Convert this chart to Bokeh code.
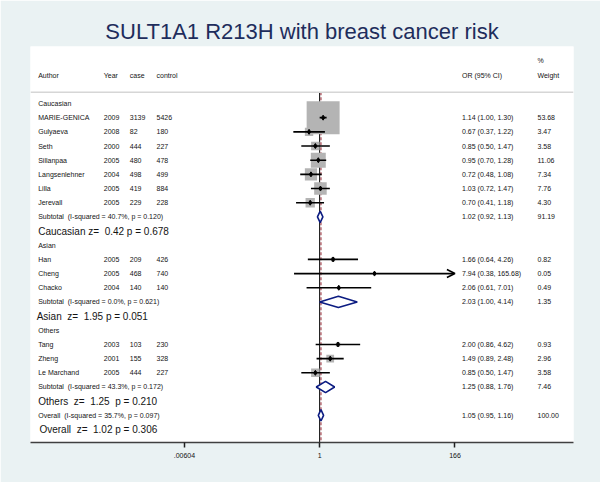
import numpy as np
from bokeh.plotting import figure
from bokeh.models import (Range1d, LinearScale, FixedTicker, ColumnDataSource,
                          Arrow, OpenHead, Span)
from bokeh.core.properties import value
from bokeh.embed import file_html
from bokeh.resources import INLINE

# ---------------- data ----------------
title = "SULT1A1 R213H with breast cancer risk"

authors = ["MARIE-GENICA", "Gulyaeva", "Seth", "Sillanpaa", "Langsenlehner", "Lilla",
           "Jerevall", "Han", "Cheng", "Chacko", "Tang", "Zheng", "Le Marchand"]
years = [2009, 2008, 2000, 2005, 2004, 2005, 2005, 2005, 2005, 2004, 2003, 2001, 2005]
cases = [3139, 82, 444, 480, 498, 419, 229, 209, 468, 140, 103, 155, 444]
controls = [5426, 180, 227, 478, 499, 884, 228, 426, 740, 140, 230, 328, 227]
odds = [1.14, 0.67, 0.85, 0.95, 0.72, 1.03, 0.70, 1.66, 7.94, 2.06, 2.00, 1.49, 0.85]
ci_lo = [1.00, 0.37, 0.50, 0.70, 0.48, 0.72, 0.41, 0.64, 0.38, 0.61, 0.86, 0.89, 0.50]
ci_hi = [1.30, 1.22, 1.47, 1.28, 1.08, 1.47, 1.18, 4.26, 165.68, 7.01, 4.62, 2.48, 1.47]
weights = [53.68, 3.47, 3.58, 11.06, 7.34, 7.76, 4.30, 0.82, 0.05, 0.49, 0.93, 2.96, 3.58]
study_rows = [2, 3, 4, 5, 6, 7, 8, 12, 13, 14, 18, 19, 20]

groups = ["Caucasian", "Asian", "Others"]
group_rows = [1, 11, 17]

pooled_labels = ["Subtotal  (I-squared = 40.7%, p = 0.120)",
                 "Subtotal  (I-squared = 0.0%, p = 0.621)",
                 "Subtotal  (I-squared = 43.3%, p = 0.172)",
                 "Overall  (I-squared = 35.7%, p = 0.097)"]
pooled_or = [1.02, 2.03, 1.25, 1.05]
pooled_lo = [0.92, 1.00, 0.88, 0.95]
pooled_hi = [1.13, 4.14, 1.76, 1.16]
pooled_w = [91.19, 1.35, 7.46, 100.00]
pooled_rows = [9, 15, 21, 23]

z_labels = ["Caucasian z=  0.42 p = 0.678",
            "Asian  z=  1.95 p = 0.051",
            "Others  z=  1.25  p = 0.210",
            "Overall  z=  1.02 p = 0.306"]
z_rows = [10, 16, 22, 24]

tick_vals = [0.00604, 1, 166]
tick_labels = [".00604", "1", "166"]

null_value = 1
overall_or = pooled_or[-1]

# ---------------- style / layout ----------------
BG = "#eaf2f3"
FONT = "Liberation Sans"
NAVY = "#0c1c82"
TXT = "#141414"


def nb(s):
    return s.replace("  ", " \u00a0")


p = figure(width=600, height=482,
           x_axis_type="log", output_backend="svg", toolbar_location=None,
           x_range=Range1d(np.exp(-10.924), np.exp(9.590)),
           y_range=Range1d(24.917, -3.021),
           min_border_left=30, min_border_right=27, min_border_bottom=40,
           min_border_top=46, y_axis_location=None)
p.extra_x_ranges = {"txt": Range1d(0, 543)}
p.extra_x_scales = {"txt": LinearScale()}

p.title.text = title
p.title.align = "center"
p.title.text_font = FONT
p.title.text_font_size = "22px"
p.title.text_font_style = "normal"
p.title.text_color = "#1e2d5c"
p.title.standoff = 5

p.background_fill_color = "white"
p.border_fill_color = BG
p.outline_line_color = None
p.xgrid.visible = False
p.ygrid.visible = False

ax = p.xaxis[0]
ax.ticker = FixedTicker(ticks=tick_vals)
ax.major_label_overrides = {v: l for v, l in zip(tick_vals, tick_labels)}
ax.axis_line_color = "#404040"
ax.axis_line_width = 1.5
ax.major_tick_line_color = "#202020"
ax.major_tick_line_width = 1.5
ax.major_tick_in = 0
ax.major_tick_out = 5
ax.minor_tick_line_color = None
ax.major_label_text_font = FONT
ax.major_label_text_font_size = "7px"
ax.major_label_text_color = TXT
ax.major_label_standoff = 5

sep_row = 0.2
bottom_row = 24.917

# header separator
p.add_layout(Span(location=sep_row, dimension="width", line_color="#d6d6d6", line_width=1.5))

# null line and overall line
p.segment(x0=[null_value], y0=[sep_row], x1=[null_value], y1=[bottom_row],
          line_color="black", line_width=1)
p.segment(x0=[overall_or], y0=[sep_row], x1=[overall_or], y1=[bottom_row],
          line_color="#a8505a", line_width=1.3, line_dash="3 2")

# study boxes, CIs, points
box = [4.5 * np.sqrt(w) for w in weights]
src = ColumnDataSource(dict(or_=odds, lo=ci_lo, hi=ci_hi, row=study_rows, box=box))
p.rect(x="or_", y="row", width="box", height="box", width_units="screen",
       height_units="screen", source=src, fill_color="#b4b4b4", line_color=None)

arrow_mask = [h > 100 for h in ci_hi]
seg_src = ColumnDataSource(dict(
    lo=[l for l, m in zip(ci_lo, arrow_mask) if not m],
    hi=[h for h, m in zip(ci_hi, arrow_mask) if not m],
    row=[r for r, m in zip(study_rows, arrow_mask) if not m]))
p.segment(x0="lo", y0="row", x1="hi", y1="row", source=seg_src,
          line_color="black", line_width=1.6)
arr_src = ColumnDataSource(dict(
    lo=[l for l, m in zip(ci_lo, arrow_mask) if m],
    hi=[h for h, m in zip(ci_hi, arrow_mask) if m],
    row=[r for r, m in zip(study_rows, arrow_mask) if m]))
p.add_layout(Arrow(x_start="lo", y_start="row", x_end="hi", y_end="row", source=arr_src,
                   line_color="black", line_width=1.6,
                   end=OpenHead(size=8, line_color="black", line_width=1.6)))

p.scatter(x="or_", y="row", source=src, marker="diamond", size=5,
          fill_color="black", line_color="black")

# pooled diamonds
h = 0.4
xs, ys = [], []
for o, l, hi_, r in zip(pooled_or, pooled_lo, pooled_hi, pooled_rows):
    xs.append([l, o, hi_, o])
    ys.append([r, r - h, r, r + h])
p.patches(xs, ys, fill_color="white", line_color=NAVY, line_width=1.6)

# ---------------- text columns ----------------
col_author, col_year, col_case, col_ctrl, col_or, col_w = 7.7, 73.3, 99.3, 126.0, 431.5, 507.0


def txt(x, y, t, size="7px"):
    p.text(x=x, y=y, text=t, x_range_name="txt", text_font=value(FONT),
           text_font_size=size, text_color=TXT, text_baseline="middle", text_align="left")


hdr_y = -1
txt([col_author, col_year, col_case, col_ctrl, col_or, col_w],
    [hdr_y] * 6, ["Author", "Year", "case", "control", "OR (95% CI)", "Weight"])
txt([col_w], [hdr_y - 1], ["%"])

txt([col_author] * len(groups), group_rows, groups)
n = len(authors)
txt([col_author] * n, study_rows, authors)
txt([col_year] * n, study_rows, [str(v) for v in years])
txt([col_case] * n, study_rows, [str(v) for v in cases])
txt([col_ctrl] * n, study_rows, [str(v) for v in controls])
txt([col_or] * n, study_rows,
    [f"{o:.2f} ({l:.2f}, {hh:.2f})" for o, l, hh in zip(odds, ci_lo, ci_hi)])
txt([col_w] * n, study_rows, [f"{w:.2f}" for w in weights])

m = len(pooled_labels)
txt([col_author] * m, pooled_rows, [nb(s) for s in pooled_labels])
txt([col_or] * m, pooled_rows,
    [f"{o:.2f} ({l:.2f}, {hh:.2f})" for o, l, hh in zip(pooled_or, pooled_lo, pooled_hi)])
txt([col_w] * m, pooled_rows, [f"{w:.2f}" for w in pooled_w])

txt([col_author, col_author - 1.5, col_author, col_author + 1.2], z_rows,
    [nb(s) for s in z_labels], size="10px")

open("out.html", "w").write(file_html(p, INLINE))
